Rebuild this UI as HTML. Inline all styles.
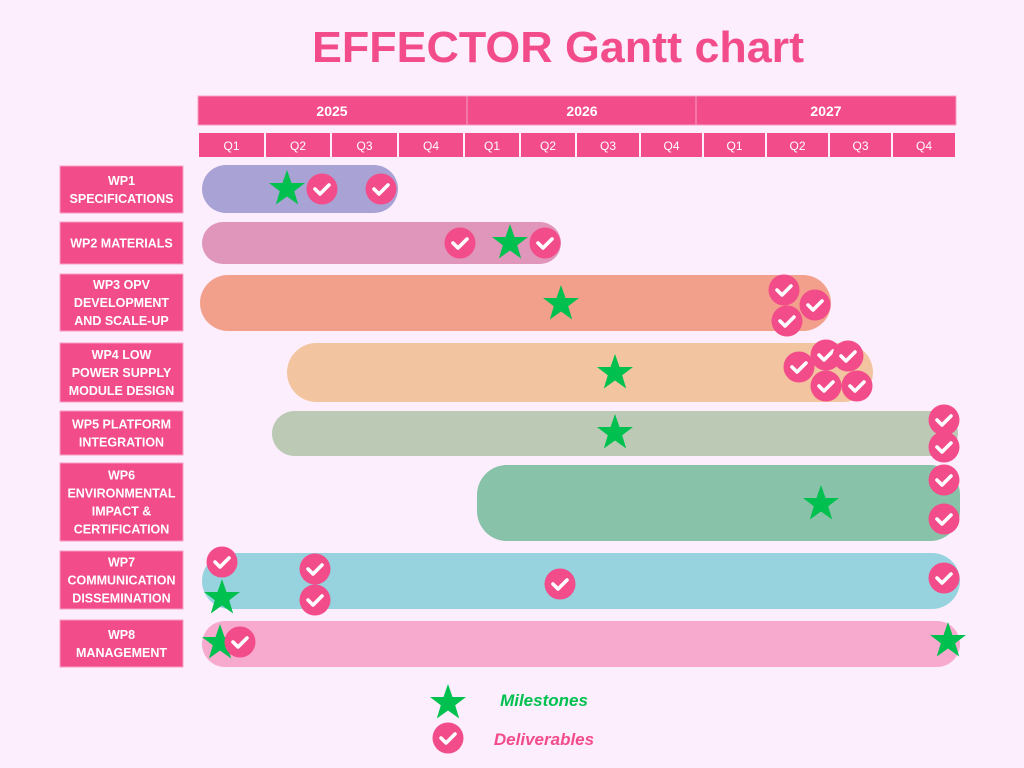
<!DOCTYPE html>
<html><head><meta charset="utf-8"><style>
html,body{margin:0;padding:0;width:1024px;height:768px;background:#fdeefd;overflow:hidden}
svg{position:absolute;left:0;top:0}
text{font-family:"Liberation Sans",sans-serif}
</style></head><body>
<svg id="s" width="1024" height="768" viewBox="0 0 1024 768" xmlns="http://www.w3.org/2000/svg">
<defs>
<g id="st"><polygon points="0,-19 4.5,-6 18,-6 7.2,2.3 11.2,15.5 0,7.5 -11.2,15.5 -7.2,2.3 -18,-6 -4.5,-6" fill="#00c04f"/></g>
<g id="ck"><circle r="15.5" fill="#f24c8a"/><polyline points="-7,0 -2,5 7,-4" fill="none" stroke="#fff" stroke-width="3.6" stroke-linecap="round" stroke-linejoin="round"/></g>
</defs>
<text x="558" y="62" text-anchor="middle" font-size="44" textLength="492" lengthAdjust="spacingAndGlyphs" font-weight="bold" fill="#f24c8a">EFFECTOR Gantt chart</text>
<g fill="#f24c8a" stroke="#f7a0c4" stroke-width="1">
<rect x="198" y="96" width="269" height="29"/><rect x="467" y="96" width="229" height="29"/><rect x="696" y="96" width="260" height="29"/>
</g>
<g font-size="14" font-weight="bold" fill="#fff" text-anchor="middle">
<text x="332" y="116">2025</text><text x="582" y="116">2026</text><text x="826" y="116">2027</text>
</g>
<g id="q"></g>
<g id="lab"></g>
<g id="bars"></g>
<g id="marks"></g>
<use href="#st" x="448" y="703"/>
<use href="#ck" x="448" y="738"/>
<text x="544" y="706" text-anchor="middle" font-size="17" font-weight="bold" font-style="italic" fill="#00c04f">Milestones</text>
<text x="544" y="745" text-anchor="middle" font-size="17" font-weight="bold" font-style="italic" fill="#f24c8a">Deliverables</text>
</svg>
<script>
var NS="http://www.w3.org/2000/svg";
function el(p,t,a,txt){var e=document.createElementNS(NS,t);for(var k in a)e.setAttribute(k,a[k]);if(txt)e.textContent=txt;document.getElementById(p).appendChild(e);return e;}
var qx=[198,265,331,398,464,520,576,640,703,766,829,892,956];
for(var i=0;i<12;i++){el("q","rect",{x:qx[i]+1,y:133,width:qx[i+1]-qx[i]-2,height:24,fill:"#f24c8a"});
el("q","text",{x:(qx[i]+qx[i+1])/2,y:150,"text-anchor":"middle","font-size":"12",fill:"#fff"},"Q"+(i%4+1));}
var labs=[[166,213,["WP1","SPECIFICATIONS"]],[222,264,["WP2 MATERIALS"]],[274,331,["WP3 OPV","DEVELOPMENT","AND SCALE-UP"]],[343,402,["WP4 LOW","POWER SUPPLY","MODULE DESIGN"]],[411,455,["WP5 PLATFORM","INTEGRATION"]],[463,541,["WP6","ENVIRONMENTAL","IMPACT &","CERTIFICATION"]],[551,609,["WP7","COMMUNICATION","DISSEMINATION"]],[620,667,["WP8","MANAGEMENT"]]];
labs.forEach(function(l){el("lab","rect",{x:60,y:l[0],width:123,height:l[1]-l[0],fill:"#f24c8a",stroke:"#f7a0c4"});
var n=l[2].length,c=(l[0]+l[1])/2,y0=c-(n-1)*9+4.5;l[2].forEach(function(t,j){el("lab","text",{x:121.5,y:y0+j*18,"text-anchor":"middle","font-size":"12.5","font-weight":"bold",fill:"#fff"},t);});});
var bars=[[202,398,165,213,"#a8a3d4"],[202,561,222,264,"#e096ba"],[200,831,275,331,"#f2a08c"],[287,873,343,402,"#f2c4a0"],[272,958,411,456,"#bccab5"],[477,960,465,541,"#88c2a8"],[202,960,553,609,"#96d3de"],[202,960,621,667,"#f7aacd"]];
bars.forEach(function(b){var h=b[3]-b[2];el("bars","rect",{x:b[0],y:b[2],width:b[1]-b[0],height:h,rx:Math.min(h/2,30),fill:b[4]});});
var ck=[[322,189],[381,189],[460,243],[545,243],[784,290],[815,305],[787,321],[799,367],[826,355],[848,356],[826,386],[857,386],[944,420],[944,447],[944,480],[944,519],[222,562],[315,569],[315,600],[560,584],[944,578],[240,642]];
var st=[[287,189],[510,243],[561,304],[615,373],[615,433],[821,504],[222,598],[220,643],[948,641]];
st.forEach(function(p){el("marks","use",{href:"#st",x:p[0],y:p[1]});});
ck.forEach(function(p){el("marks","use",{href:"#ck",x:p[0],y:p[1]});});
</script>
</body></html>
